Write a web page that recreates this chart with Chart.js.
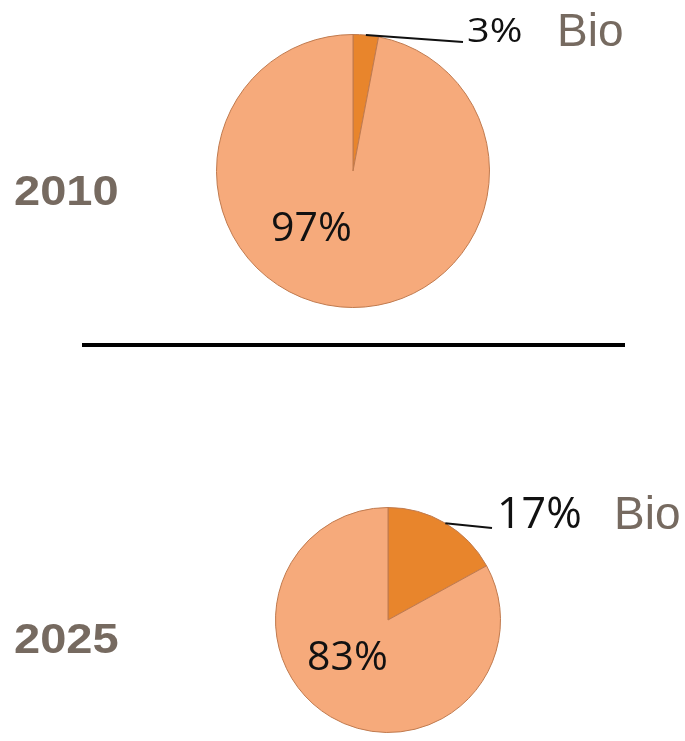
<!DOCTYPE html>
<html>
<head>
<meta charset="utf-8">
<script src="https://cdn.jsdelivr.net/npm/chart.js@4"></script>
<style>
  body { margin: 0; background: #fff; width: 685px; height: 741px; position: relative; overflow: hidden; }
  canvas { position: absolute; left: 0; }
  #top { top: 0; }
  #bottom { top: 350px; }
  #rule { position: absolute; left: 82px; top: 343px; width: 543px; height: 4px; background: #000; }
</style>
</head>
<body>
<canvas id="top" width="685" height="345"></canvas>
<div id="rule"></div>
<canvas id="bottom" width="685" height="391"></canvas>
<script>
const years = ['2010', '2025'];
const sliceLabels = ['Bio', 'Other'];
const share2010 = [3, 97];
const share2025 = [17, 83];

const sliceColors = ['#E8852C', '#F6AA7B'];
const textGrey = '#766A60';

// draw text stretched a bit wider, like the original slide
function wideText(ctx, text, x, y, font, color, sx) {
  ctx.save();
  ctx.translate(x, y);
  ctx.scale(sx, 1);
  ctx.font = font;
  ctx.fillStyle = color;
  ctx.textAlign = 'left';
  ctx.textBaseline = 'middle';
  ctx.fillText(text, 0, 0);
  ctx.restore();
}

const pieLabels = {
  id: 'pieLabels',
  afterDatasetsDraw(chart, args, opts) {
    const ctx = chart.ctx;
    const arcs = chart.getDatasetMeta(0).data;
    const values = chart.data.datasets[0].data;
    const bio = arcs[0], rest = arcs[1];
    const cx = bio.x, cy = bio.y, r = bio.outerRadius;

    // leader line from the middle of the Bio slice
    const mid = (bio.startAngle + bio.endAngle) / 2;
    ctx.save();
    ctx.strokeStyle = '#111';
    ctx.lineWidth = 2;
    ctx.beginPath();
    ctx.moveTo(cx + Math.cos(mid) * r, cy + Math.sin(mid) * r);
    ctx.lineTo(cx + opts.leader[0], cy + opts.leader[1]);
    ctx.stroke();
    ctx.restore();

    wideText(ctx, values[0] + '%', opts.outX, opts.outY, opts.outFont + 'px "Open Sans"', '#111', opts.outScale);
    wideText(ctx, chart.data.labels[0], opts.bioX, opts.outY, '46px "Liberation Sans"', textGrey, 1);

    // percentage inside the big slice
    wideText(ctx, values[1] + '%', cx + opts.inside[0] * r, cy + opts.inside[1] * r, '41px "Open Sans"', '#111', 1);

    // year on the left
    wideText(ctx, opts.year, 14, opts.yearY, 'bold 42px "Liberation Sans"', textGrey, 1.12);
  }
};

function makePie(id, values, padding, labelOpts) {
  new Chart(document.getElementById(id), {
    type: 'pie',
    data: {
      labels: sliceLabels,
      datasets: [{
        data: values,
        backgroundColor: ctx => {
          const a = ctx.element;
          if (!a || !a.outerRadius) return sliceColors[ctx.dataIndex];
          const g = ctx.chart.ctx.createRadialGradient(a.x, a.y, 0, a.x, a.y, a.outerRadius);
          if (ctx.dataIndex === 0) {
            g.addColorStop(0, '#DD7A22');
            g.addColorStop(0.9, '#EC8B30');
            g.addColorStop(1, '#F2A057');
          } else {
            g.addColorStop(0, '#F3A476');
            g.addColorStop(0.88, '#F7AD80');
            g.addColorStop(1, '#FBC39E');
          }
          return g;
        },
        borderColor: '#C07A4E',
        borderWidth: 1
      }]
    },
    options: {
      responsive: false,
      animation: false,
      layout: { padding: padding },
      plugins: {
        legend: { display: false },
        tooltip: { enabled: false },
        pieLabels: labelOpts
      }
    },
    plugins: [pieLabels]
  });
}

makePie('top', share2010,
  { left: 216, right: 195, top: 34, bottom: 37 },
  { year: years[0], yearY: 193, leader: [110, -129], outX: 467, outY: 33, outFont: 33, outScale: 1.2, bioX: 557, inside: [-0.6, 0.43] });

makePie('bottom', share2025,
  { left: 275, right: 184, top: 157, bottom: 8 },
  { year: years[1], yearY: 291, leader: [104, -92], outX: 497, outY: 166, outFont: 43, outScale: 1, bioX: 614, inside: [-0.72, 0.34] });
</script>
</body>
</html>
